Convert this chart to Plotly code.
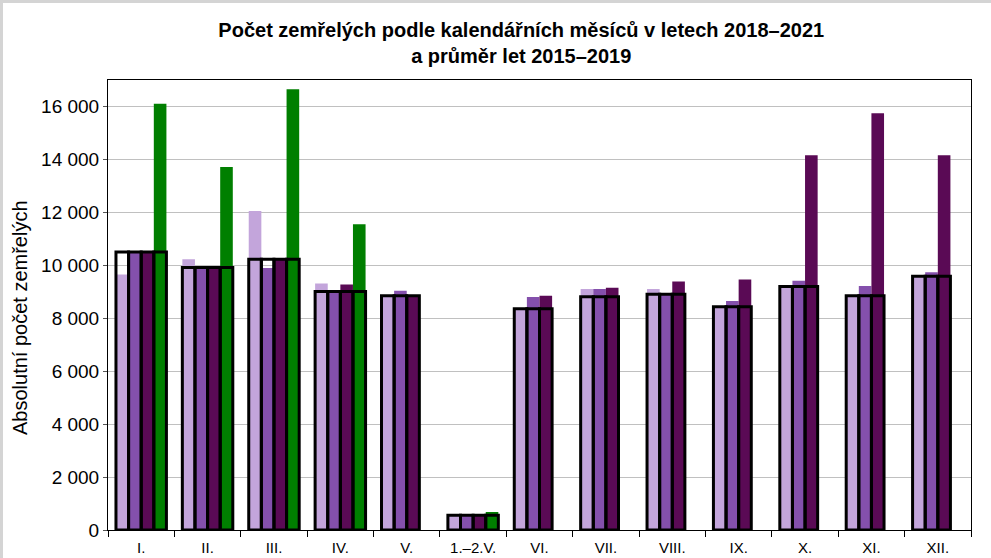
import plotly.graph_objects as go

categories = ["I.", "II.", "III.", "IV.", "V.", "1.–2.V.", "VI.", "VII.", "VIII.", "IX.", "X.", "XI.", "XII."]
years = ["2018", "2019", "2020", "2021"]
v2018 = [9650, 10230, 12050, 9310, 8820, 540, 8330, 9100, 9100, 8400, 9150, 8800, 9570]
v2019 = [10480, 9860, 9900, 8960, 9040, 545, 8800, 9100, 8880, 8650, 9420, 9220, 9740]
v2020 = [10520, 9930, 10240, 9270, 8850, 530, 8850, 9150, 9390, 9460, 14160, 15740, 14160]
v2021 = [16100, 13710, 16650, 11550, None, 680, None, None, None, None, None, None, None]
avg_2015_2019 = [10500, 9920, 10230, 9010, 8850, 560, 8360, 8810, 8910, 8430, 9200, 8850, 9590]

series = [v2018, v2019, v2020, v2021]
colors = ["#c3a5db", "#8450ac", "#5a0a55", "#007f00"]

title_text = "Počet zemřelých podle kalendářních měsíců v letech 2018–2021<br>a průměr let 2015–2019"
ytitle = "Absolutní počet zemřelých"
font_family = "Liberation Sans, Arial, sans-serif"

W, H = 991, 558
ML, MR, MT, MB = 108, 20, 80, 28
PW, PH = W - ML - MR, H - MT - MB

fig = go.Figure()
for name, vals, col in zip(years, series, colors):
    fig.add_trace(go.Bar(
        x=categories, y=vals, name=name, offsetgroup=name,
        marker=dict(color=col, line=dict(width=0)),
    ))
# average 2015-2019 drawn as outlined boxes over each year's bar
for name, vals in zip(years, series):
    avg_vals = [a if v is not None else None for a, v in zip(avg_2015_2019, vals)]
    fig.add_trace(go.Bar(
        x=categories, y=avg_vals, name="průměr 2015–2019", offsetgroup=name,
        marker=dict(color="rgba(0,0,0,0)", line=dict(color="black", width=3)),
    ))

fig.update_layout(
    width=W, height=H,
    margin=dict(l=ML, r=MR, t=MT, b=MB, autoexpand=False),
    paper_bgcolor="white", plot_bgcolor="white",
    barmode="group", bargap=0.24, bargroupgap=0,
    showlegend=False,
    separators=", ",
    font=dict(family=font_family, color="black"),
    title=dict(text="<b>" + title_text + "</b>", x=0.526, xanchor="center",
               y=1 - 37 / H, yanchor="middle", xref="container", yref="container",
               font=dict(size=20, family=font_family, color="black")),
    xaxis=dict(type="category", tickson="boundaries", ticks="outside", ticklen=6,
               tickcolor="black", showline=True, linecolor="black", linewidth=1,
               mirror=True, showgrid=False, tickfont=dict(size=15),
               ticklabelstandoff=4),
    yaxis=dict(range=[0, 17000], dtick=2000, tickformat=",d", ticks="outside",
               ticklen=4, tickcolor="#555555", showline=True, linecolor="black",
               linewidth=1, mirror=True, showgrid=True, gridcolor="#c0c0c0",
               gridwidth=1, zeroline=False, tickfont=dict(size=19),
               ticklabelstandoff=0),
    annotations=[dict(text=ytitle, textangle=-90, xref="paper", yref="paper",
                      x=(20 - ML) / PW, y=(H - MB - 318) / PH, xanchor="center",
                      yanchor="middle", showarrow=False,
                      font=dict(size=20, family=font_family))],
    shapes=[
        dict(type="line", xref="paper", yref="paper",
             x0=(1.5 - ML) / PW, x1=(1.5 - ML) / PW, y0=-MB / PH, y1=1 + MT / PH,
             line=dict(color="#d4d4d4", width=3), layer="below"),
        dict(type="line", xref="paper", yref="paper",
             x0=-ML / PW, x1=1 + MR / PW, y0=1 + (MT - 1.5) / PH, y1=1 + (MT - 1.5) / PH,
             line=dict(color="#d4d4d4", width=3), layer="below"),
    ],
)

fig.write_html("out.html", config={"displayModeBar": False},
               post_script="document.body.style.margin='0px';")
